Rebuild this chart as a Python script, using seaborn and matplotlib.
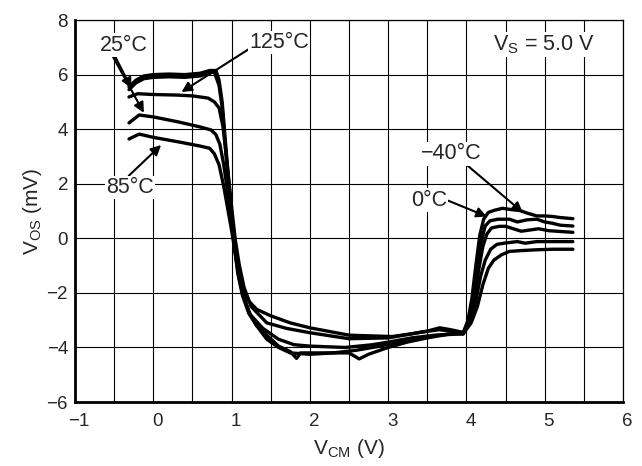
import matplotlib
matplotlib.use("Agg")
import matplotlib.pyplot as plt
import matplotlib.transforms as mtransforms
import seaborn as sns
import pandas as pd

# === data (VOS vs VCM, VS = 5.0 V) ===

x_m40 = [-0.31, -0.22, -0.12, 0.0, 0.2, 0.4, 0.6, 0.72, 0.80, 0.84, 0.88, 0.92, 0.96, 1.00, 1.04, 1.08,
         1.14, 1.22, 1.32, 1.45, 1.6, 1.75, 2.0, 2.3, 2.6, 2.9, 3.2, 3.5, 3.8, 3.96, 4.02, 4.07, 4.12,
         4.17, 4.22, 4.28, 4.36, 4.46, 4.58, 4.68, 4.78, 4.9, 5.0, 5.1, 5.2, 5.36]
y_m40 = [5.55, 5.8, 5.95, 6.0, 6.02, 6.0, 6.05, 6.15, 6.15, 5.8, 5.0, 3.6, 2.2, 0.9, -0.2, -1.1,
         -2.0, -2.7, -3.2, -3.7, -4.0, -4.2, -4.25, -4.2, -4.1, -3.95, -3.75, -3.6, -3.5, -3.45, -3.0, -2.2, -1.0,
         0.1, 0.7, 0.95, 1.03, 1.1, 1.05, 1.02, 0.92, 0.82, 0.82, 0.8, 0.76, 0.72]

x_0 = [-0.31, -0.22, -0.12, 0.0, 0.2, 0.4, 0.6, 0.7, 0.78, 0.84, 0.88, 0.92, 0.96, 1.00, 1.04, 1.08,
       1.14, 1.22, 1.32, 1.45, 1.6, 1.75, 1.83, 1.88, 2.0, 2.3, 2.5, 2.63, 2.75, 3.0, 3.25, 3.5, 3.8,
       3.96, 4.03, 4.08, 4.14, 4.19, 4.24, 4.3, 4.4, 4.55, 4.65, 4.78, 4.9, 5.0, 5.1, 5.2, 5.36]
y_0 = [5.45, 5.7, 5.85, 5.9, 5.92, 5.9, 5.95, 6.05, 6.1, 5.6, 4.8, 3.4, 2.0, 0.7, -0.4, -1.3,
       -2.1, -2.75, -3.2, -3.55, -3.95, -4.15, -4.4, -4.2, -4.2, -4.2, -4.2, -4.42, -4.25, -4.0, -3.8, -3.65, -3.5,
       -3.5, -3.0, -2.2, -1.0, -0.1, 0.45, 0.64, 0.7, 0.7, 0.6, 0.68, 0.7, 0.6, 0.55, 0.48, 0.45]

x_25 = [-0.31, -0.18, 0.0, 0.33, 0.6, 0.74, 0.8, 0.85, 0.9, 0.94, 0.98, 1.02, 1.06, 1.1, 1.16, 1.24,
        1.4, 1.6, 1.8, 2.0, 2.45, 2.8, 3.05, 3.3, 3.6, 3.96, 4.04, 4.1, 4.16, 4.21, 4.26, 4.32, 4.42,
        4.5, 4.6, 4.7, 4.8, 4.92, 5.05, 5.2, 5.36]
y_25 = [4.23, 4.52, 4.45, 4.26, 4.08, 3.97, 3.8, 3.45, 2.7, 1.9, 1.0, 0.1, -0.8, -1.5, -2.2, -2.8,
        -3.3, -3.7, -3.9, -3.95, -4.0, -3.9, -3.78, -3.65, -3.55, -3.5, -3.0, -2.2, -1.1, -0.3, 0.15, 0.38, 0.44,
        0.44, 0.35, 0.26, 0.3, 0.35, 0.28, 0.25, 0.22]

x_85 = [-0.31, -0.18, 0.0, 0.33, 0.6, 0.72, 0.78, 0.84, 0.9, 0.95, 1.0, 1.04, 1.08, 1.14, 1.22, 1.32,
        1.5, 1.75, 2.0, 2.5, 3.05, 3.3, 3.5, 3.66, 3.8, 3.96, 4.05, 4.12, 4.18, 4.24, 4.31, 4.39, 4.5,
        4.65, 4.75, 4.9, 5.1, 5.36]
y_85 = [3.64, 3.82, 3.7, 3.53, 3.38, 3.3, 3.1, 2.7, 1.9, 1.1, 0.3, -0.4, -1.1, -1.8, -2.3, -2.6,
        -2.84, -3.1, -3.28, -3.55, -3.6, -3.5, -3.4, -3.28, -3.35, -3.45, -3.0, -2.3, -1.4, -0.8, -0.4, -0.22, -0.17,
        -0.12, -0.18, -0.12, -0.12, -0.12]

x_125 = [-0.31, -0.2, 0.0, 0.3, 0.5, 0.7, 0.78, 0.84, 0.89, 0.93, 0.97, 1.01, 1.05, 1.1, 1.16, 1.25,
         1.45, 1.7, 2.0, 2.5, 3.0, 3.4, 3.65, 3.8, 3.96, 4.06, 4.14, 4.21, 4.28, 4.35, 4.45, 4.55, 4.7,
         4.9, 5.1, 5.36]
y_125 = [5.18, 5.3, 5.27, 5.25, 5.22, 5.14, 5.0, 4.78, 4.1, 3.1, 2.0, 0.9, -0.1, -1.0, -1.8, -2.5,
         -3.1, -3.3, -3.46, -3.68, -3.65, -3.45, -3.35, -3.4, -3.5, -3.1, -2.5, -1.7, -1.1, -0.8, -0.6, -0.48, -0.45,
         -0.42, -0.4, -0.4]

temps = ["−40°C", "0°C", "25°C", "85°C", "125°C"]
curves_x = [x_m40, x_0, x_25, x_85, x_125]
curves_y = [y_m40, y_0, y_25, y_85, y_125]

x_ticks = [-1, 0, 1, 2, 3, 4, 5, 6]
y_ticks = [-6, -4, -2, 0, 2, 4, 6, 8]

# === plot ===

sns.set_theme(style="white")
plt.rcParams['font.family'] = ['Liberation Sans', 'DejaVu Sans']
plt.rcParams['mathtext.default'] = 'regular'

fig = plt.figure(figsize=(6.42, 4.66), dpi=100)
ax = fig.add_axes([0.1168, 0.1373, 0.8536, 0.8197])

rows = []
for t, xs, ys in zip(temps, curves_x, curves_y):
    for i, (xv, yv) in enumerate(zip(xs, ys)):
        rows.append({"temp": t, "i": i, "vcm": xv, "vos": yv})
df = pd.DataFrame(rows)

sns.lineplot(data=df, x="vcm", y="vos", hue="temp", units="temp", estimator=None, sort=False,
             palette=["black"] * len(temps), linewidth=2.4, legend=False, ax=ax, zorder=3)

ax.set_xlim(-1, 6)
ax.set_ylim(-6, 8)
ax.set_xticks(x_ticks)
ax.set_xticks([v + 0.5 for v in x_ticks[:-1]], minor=True)
ax.set_yticks(y_ticks)
ax.grid(which="both", axis="x", color="black", linewidth=0.8)
ax.grid(which="major", axis="y", color="black", linewidth=0.8)
ax.tick_params(which="both", length=0, labelsize=13.5)
ax.tick_params(axis="x", pad=8)
ax.tick_params(axis="y", pad=5)

# labels in the reference sit a little right of their grid lines
shift = mtransforms.ScaledTranslation(4 / 100, 0, fig.dpi_scale_trans)
for lab in ax.get_xticklabels():
    lab.set_transform(lab.get_transform() + shift)

for side in ["left", "bottom"]:
    ax.spines[side].set_linewidth(2.0)
for side in ["top", "right"]:
    ax.spines[side].set_linewidth(0.9)
for s in ax.spines.values():
    s.set_color("black")
    s.set_zorder(4)

ax.set_xlabel("V$_{CM}$ (V)", fontsize=15, labelpad=5)
ax.set_ylabel("V$_{OS}$ (mV)", fontsize=15, labelpad=2)

fs = 15.5
box = dict(facecolor="white", edgecolor="none", pad=1)
arrow = dict(arrowstyle="-|>", color="black", lw=1.5, mutation_scale=15, shrinkA=0, shrinkB=0)

ax.text(4.99, 7.1, "V$_S$ = 5.0 V", fontsize=fs, ha="center", va="center", bbox=box, zorder=5)

ax.annotate("25°C", xy=(-0.28, 5.5), xytext=(-0.37, 7.08), fontsize=fs, ha="center", va="center",
            bbox=box, arrowprops=dict(arrow, relpos=(0.3, 0)), zorder=5)
ax.annotate("25°C", xy=(-0.12, 4.6), xytext=(-0.37, 7.08), fontsize=fs, ha="center", va="center",
            bbox=box, arrowprops=dict(arrow, relpos=(0.25, 0)), zorder=5)
ax.annotate("125°C", xy=(0.36, 5.36), xytext=(1.61, 7.18), fontsize=fs, ha="center", va="center",
            bbox=box, arrowprops=dict(arrow, relpos=(0.0, 0.2)), zorder=5)
ax.annotate("85°C", xy=(0.1, 3.42), xytext=(-0.3, 1.86), fontsize=fs, ha="center", va="center",
            bbox=box, arrowprops=dict(arrow, relpos=(0.45, 1.0)), zorder=5)
ax.annotate("−40°C", xy=(4.72, 0.95), xytext=(3.8, 3.1), fontsize=fs, ha="center", va="center",
            bbox=box, arrowprops=dict(arrow, relpos=(0.75, 0.0)), zorder=5)
ax.annotate("0°C", xy=(4.26, 0.8), xytext=(3.52, 1.4), fontsize=fs, ha="center", va="center",
            bbox=box, arrowprops=dict(arrow, relpos=(1.0, 0.5)), zorder=5)

fig.savefig("out.png", dpi=100)
